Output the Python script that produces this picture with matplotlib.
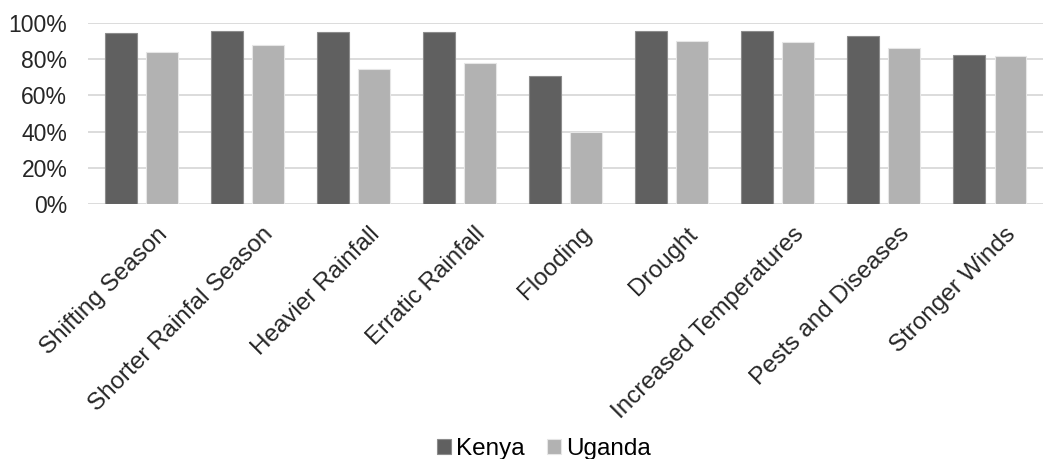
import numpy as np
import matplotlib.pyplot as plt
from matplotlib.ticker import PercentFormatter
from matplotlib.transforms import ScaledTranslation

plt.rcParams['font.family'] = ['Liberation Sans', 'DejaVu Sans']

categories = ['Shifting Season', 'Shorter Rainfal Season', 'Heavier Rainfall',
              'Erratic Rainfall', 'Flooding', 'Drought', 'Increased Temperatures',
              'Pests and Diseases', 'Stronger Winds']
kenya = [94.3, 95.4, 95.0, 94.7, 70.6, 95.6, 95.4, 92.5, 82.2]
uganda = [83.7, 87.7, 74.3, 77.6, 39.6, 89.7, 89.2, 85.9, 81.7]

FS = 16.5
FS_CAT = 17.5

fig = plt.figure(figsize=(10.62, 4.59), dpi=100)
ax = fig.add_axes([0.083, 0.555, 0.899, 0.3955])

x = np.arange(len(categories))
width = 0.30
offset = 0.194
ax.bar(x - offset, kenya, width, color='#606060', edgecolor='#8c8c8c',
       linewidth=0.8, label='Kenya', zorder=3)
ax.bar(x + offset, uganda, width, color='#b2b2b2', edgecolor='#e6e6e6',
       linewidth=0.8, label='Uganda', zorder=3)

ax.set_xlim(-0.5, len(categories) - 0.5)
ax.set_ylim(0, 100)
ax.set_yticks(np.arange(0, 101, 20))
ax.yaxis.set_major_formatter(PercentFormatter(decimals=0))
ax.grid(axis='y', color='#d9d9d9', linewidth=1.3, zorder=0)
for side in ['top', 'right', 'left', 'bottom']:
    ax.spines[side].set_visible(False)
ax.tick_params(length=0, labelsize=FS, colors='#262626')
ax.tick_params(axis='y', pad=15)

ax.set_xticks(x)
ax.set_xticklabels(categories, rotation=45, ha='right', va='top',
                   rotation_mode='anchor', fontsize=FS_CAT)
ax.tick_params(axis='x', pad=2)
# nudge the slanted labels right/down so their ends sit past the tick
shift = ScaledTranslation(15 / 100, -16 / 100, fig.dpi_scale_trans)
for lbl in ax.get_xticklabels():
    lbl.set_transform(lbl.get_transform() + shift)

fig.legend(loc='lower center', bbox_to_anchor=(0.512, -0.05), ncol=2,
           frameon=False, fontsize=FS_CAT, handlelength=0.6, handleheight=0.6,
           handletextpad=0.2, columnspacing=0.9)

fig.savefig('out.png', dpi=100)
